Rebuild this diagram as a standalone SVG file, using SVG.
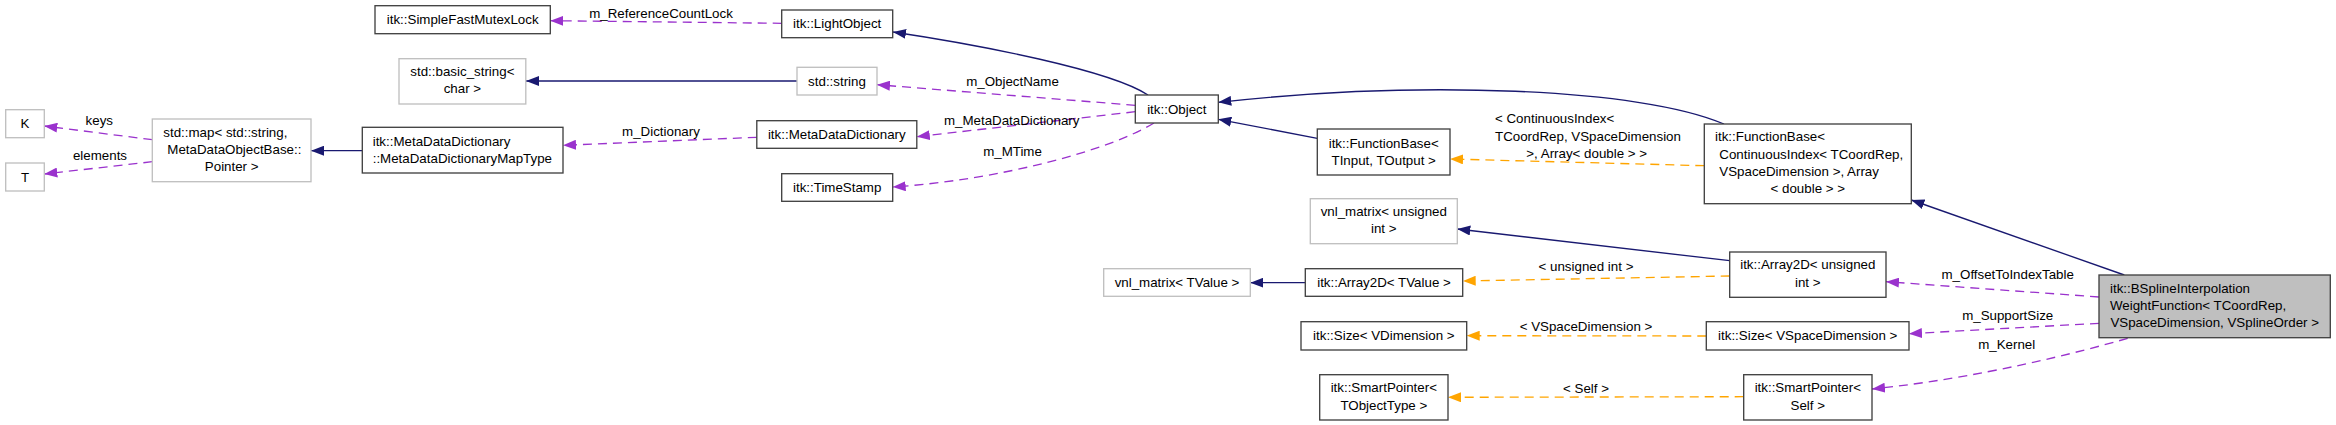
<svg xmlns="http://www.w3.org/2000/svg" width="2336" height="425" viewBox="0 0 2336 425">
<style>
.bg{fill:#ffffff}
.doc{fill:#ffffff;stroke:#404040;stroke-width:1.33}
.und{fill:#ffffff;stroke:#bfbfbf;stroke-width:1.33}
.cur{fill:#bfbfbf;stroke:#404040;stroke-width:1.33}
text{font-family:"Liberation Sans",Arial,sans-serif;font-size:13.33px;fill:#000000}
.m{text-anchor:middle}
.s{text-anchor:start}
.inh{fill:none;stroke:#191970;stroke-width:1.33;marker-end:url(#ab)}
.tpl{fill:none;stroke:#ffa500;stroke-width:1.33;stroke-dasharray:9,6;marker-end:url(#ao)}
.use{fill:none;stroke:#9a32cd;stroke-width:1.33;stroke-dasharray:9,6;marker-end:url(#ap)}
</style>
<defs>
<marker id="ab" viewBox="0 0 13 10" refX="13" refY="5" markerWidth="13" markerHeight="10" orient="auto" markerUnits="userSpaceOnUse"><path d="M0,0 L13,5 L0,10 z" fill="#191970"/></marker>
<marker id="ao" viewBox="0 0 13 10" refX="13" refY="5" markerWidth="13" markerHeight="10" orient="auto" markerUnits="userSpaceOnUse"><path d="M0,0 L13,5 L0,10 z" fill="#ffa500"/></marker>
<marker id="ap" viewBox="0 0 13 10" refX="13" refY="5" markerWidth="13" markerHeight="10" orient="auto" markerUnits="userSpaceOnUse"><path d="M0,0 L13,5 L0,10 z" fill="#9a32cd"/></marker>
</defs>
<rect class="bg" x="0" y="0" width="2336" height="425"/>

<g id="connectors">
<path class="inh" d="M1148,95 C1110,70 980,45 893,32"/>
<path class="inh" d="M797,81 L526,81"/>
<path class="inh" d="M362,150.7 L311,150.7"/>
<path class="inh" d="M1724,124 C1640,88 1420,80 1218.3,102.3"/>
<path class="inh" d="M1317.3,138.3 L1218.3,119.3"/>
<path class="inh" d="M1729.7,260.7 L1457.3,229"/>
<path class="inh" d="M1305.3,282.7 L1250.3,282.7"/>
<path class="inh" d="M2124.3,275 L1911.3,200"/>

<path class="tpl" d="M1704.3,165.7 L1450,159"/>
<path class="tpl" d="M1729.7,276 L1462.7,281"/>
<path class="tpl" d="M1706.3,336 L1466.7,335.7"/>
<path class="tpl" d="M1743.7,396.7 L1448,397.3"/>

<path class="use" d="M781.7,23.3 L550.3,20.7"/>
<path class="use" d="M1135.3,105.3 L877,84.7"/>
<path class="use" d="M1135.3,111.7 L916.8,136.7"/>
<path class="use" d="M1154,123 C1110,150 1000,180 892.7,187"/>
<path class="use" d="M756.8,137.3 L563,145.3"/>
<path class="use" d="M152.3,139.7 L44.3,126"/>
<path class="use" d="M152.3,161.7 L44.3,174"/>
<path class="use" d="M2099,297 L1886,281.7"/>
<path class="use" d="M2099,323.3 L1909,333.7"/>
<path class="use" d="M2127.7,338.3 C2080,352 1980,378 1872,389"/>

<text class="m" x="661" y="17.9">m_ReferenceCountLock</text>
<text class="m" x="1012.5" y="85.6">m_ObjectName</text>
<text class="m" x="1011.7" y="124.6">m_MetaDataDictionary</text>
<text class="m" x="661" y="135.6">m_Dictionary</text>
<text class="m" x="1012.5" y="155.6">m_MTime</text>
<text class="m" x="99.3" y="125.3">keys</text>
<text class="m" x="100" y="160.3">elements</text>
<text class="s" x="1495" y="123.3">&lt; ContinuousIndex&lt;</text>
<text class="s" x="1495" y="140.6">TCoordRep, VSpaceDimension</text>
<text class="m" x="1586.7" y="157.9">&gt;, Array&lt; double &gt; &gt;</text>
<text class="m" x="1586" y="271.3">&lt; unsigned int &gt;</text>
<text class="m" x="1586" y="331.3">&lt; VSpaceDimension &gt;</text>
<text class="m" x="1586" y="392.6">&lt; Self &gt;</text>
<text class="m" x="2007.7" y="278.6">m_OffsetToIndexTable</text>
<text class="m" x="2007.7" y="320.3">m_SupportSize</text>
<text class="m" x="2006.7" y="349.3">m_Kernel</text>
</g>

<g id="node_SimpleFastMutexLock"><rect class="doc" x="375" y="5.7" width="175.3" height="28"/><text class="m" x="462.7" y="24.3">itk::SimpleFastMutexLock</text></g>
<g id="node_LightObject"><rect class="doc" x="781.7" y="10" width="111" height="27.7"/><text class="m" x="837.2" y="28.4">itk::LightObject</text></g>
<g id="node_basic_string"><rect class="und" x="399" y="58.7" width="126.8" height="45.3"/><text class="m" x="462.4" y="76.3">std::basic_string&lt;</text><text class="m" x="462.4" y="93.3">char &gt;</text></g>
<g id="node_string"><rect class="und" x="797" y="67.3" width="80" height="27.7"/><text class="m" x="837" y="85.8">std::string</text></g>
<g id="node_K"><rect class="und" x="5.7" y="109.7" width="38.6" height="28"/><text class="m" x="25" y="128.3">K</text></g>
<g id="node_T"><rect class="und" x="5.7" y="163" width="38.6" height="28"/><text class="m" x="25" y="181.6">T</text></g>
<g id="node_map"><rect class="und" x="152.3" y="119" width="158.7" height="62.7"/><text class="s" x="163.3" y="137.3">std::map&lt; std::string,</text><text class="s" x="167.3" y="154.3">MetaDataObjectBase::</text><text class="m" x="231.7" y="171.3">Pointer &gt;</text></g>
<g id="node_MapType"><rect class="doc" x="362.3" y="127.3" width="200.7" height="45.7"/><text class="s" x="372.7" y="145.6">itk::MetaDataDictionary</text><text class="s" x="372.7" y="162.9">::MetaDataDictionaryMapType</text></g>
<g id="node_MetaDataDictionary"><rect class="doc" x="756.8" y="120.7" width="160" height="27.6"/><text class="m" x="836.8" y="139.1">itk::MetaDataDictionary</text></g>
<g id="node_TimeStamp"><rect class="doc" x="781.7" y="173.7" width="111" height="27.6"/><text class="m" x="837.2" y="192.1">itk::TimeStamp</text></g>
<g id="node_Object"><rect class="doc" x="1135.3" y="95" width="83" height="28"/><text class="m" x="1176.8" y="113.6">itk::Object</text></g>
<g id="node_FunctionBase_TInput"><rect class="doc" x="1317.3" y="129" width="132.7" height="46"/><text class="m" x="1383.7" y="148">itk::FunctionBase&lt;</text><text class="m" x="1383.7" y="165.2">TInput, TOutput &gt;</text></g>
<g id="node_FunctionBase_CI"><rect class="doc" x="1704.3" y="124" width="207" height="79.7"/><text class="s" x="1715" y="141.3">itk::FunctionBase&lt;</text><text class="s" x="1719.3" y="158.9">ContinuousIndex&lt; TCoordRep,</text><text class="s" x="1719.3" y="176.3">VSpaceDimension &gt;, Array</text><text class="m" x="1807.8" y="193.3">&lt; double &gt; &gt;</text></g>
<g id="node_vnl_matrix_uint"><rect class="und" x="1310.3" y="198.7" width="147" height="45"/><text class="m" x="1383.8" y="216.3">vnl_matrix&lt; unsigned</text><text class="m" x="1383.8" y="233.3">int &gt;</text></g>
<g id="node_vnl_matrix_TValue"><rect class="und" x="1103.7" y="268.7" width="146.6" height="27.6"/><text class="m" x="1177" y="287.1">vnl_matrix&lt; TValue &gt;</text></g>
<g id="node_Array2D_TValue"><rect class="doc" x="1305.3" y="268.7" width="157.4" height="27.6"/><text class="m" x="1384" y="287.1">itk::Array2D&lt; TValue &gt;</text></g>
<g id="node_Size_VDimension"><rect class="doc" x="1301" y="321.7" width="165.7" height="28.3"/><text class="m" x="1383.8" y="340.4">itk::Size&lt; VDimension &gt;</text></g>
<g id="node_SmartPointer_TObjectType"><rect class="doc" x="1319.7" y="374.7" width="128.3" height="45.3"/><text class="m" x="1383.8" y="392.3">itk::SmartPointer&lt;</text><text class="m" x="1383.8" y="409.6">TObjectType &gt;</text></g>
<g id="node_Array2D_uint"><rect class="doc" x="1729.7" y="252" width="156.3" height="45.3"/><text class="m" x="1807.8" y="269.3">itk::Array2D&lt; unsigned</text><text class="m" x="1807.8" y="286.9">int &gt;</text></g>
<g id="node_Size_VSpaceDimension"><rect class="doc" x="1706.3" y="321.7" width="202.7" height="28.3"/><text class="m" x="1807.7" y="340.4">itk::Size&lt; VSpaceDimension &gt;</text></g>
<g id="node_SmartPointer_Self"><rect class="doc" x="1743.7" y="374.7" width="128.3" height="45.3"/><text class="m" x="1807.8" y="392.3">itk::SmartPointer&lt;</text><text class="m" x="1807.8" y="409.6">Self &gt;</text></g>
<g id="node_BSpline"><rect class="cur" x="2099" y="275" width="231.3" height="62.7"/><text class="s" x="2110" y="293.3">itk::BSplineInterpolation</text><text class="s" x="2110" y="310.3">WeightFunction&lt; TCoordRep,</text><text class="m" x="2214.7" y="327.3">VSpaceDimension, VSplineOrder &gt;</text></g>
</svg>
